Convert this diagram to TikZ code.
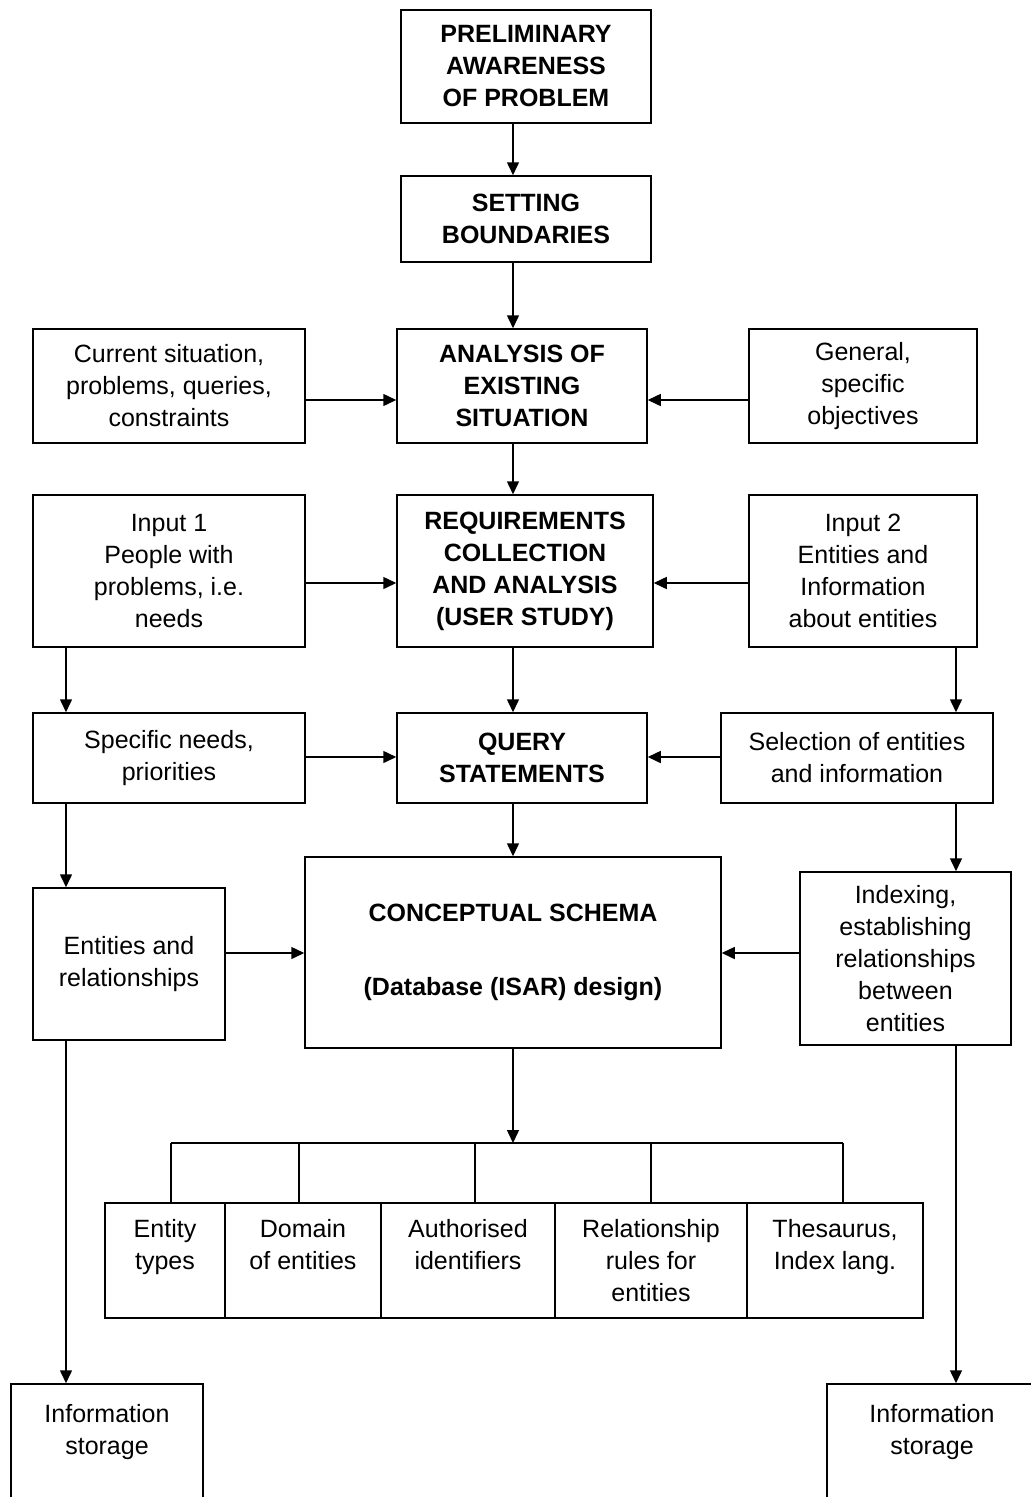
\documentclass[tikz,border=0pt]{standalone}
\usepackage{fontspec}
\setmainfont{Liberation Sans}
\usetikzlibrary{arrows.meta}
\begin{document}
\begin{tikzpicture}[x=1pt,y=-1pt,
  box/.style={draw, line width=1.5pt, align=center, inner sep=0pt,
    font=\fontsize{25}{32}\selectfont},
  bbox/.style={box, font=\fontsize{25}{32}\selectfont\bfseries},
  arr/.style={line width=1.5pt, -{Triangle[length=13pt,width=12pt]}},
  ln/.style={line width=1.5pt}]
\useasboundingbox[fill=white] (0,0) rectangle (1031,1497);
% central column
\node[bbox, minimum width=250pt, minimum height=113pt] (prelim) at (526,66.5) {PRELIMINARY\\AWARENESS\\OF PROBLEM};
\node[bbox, minimum width=250pt, minimum height=86pt] (setting) at (526,219) {SETTING\\BOUNDARIES};
\node[bbox, minimum width=250pt, minimum height=114pt] (analysis) at (522,386) {ANALYSIS OF\\EXISTING\\SITUATION};
\node[bbox, minimum width=256pt, minimum height=152pt] (req) at (525,571) {REQUIREMENTS\\COLLECTION\\AND ANALYSIS\\(USER STUDY)};
\node[bbox, minimum width=250pt, minimum height=90pt] (query) at (522,758) {QUERY\\STATEMENTS};
\node[bbox, minimum width=416pt, minimum height=191pt, font=\fontsize{25}{74}\selectfont\bfseries] (concept) at (513,952.5) {CONCEPTUAL SCHEMA\\(Database (ISAR) design)};
% left column
\node[box, minimum width=272pt, minimum height=114pt] (current) at (169,386) {Current situation,\\problems, queries,\\constraints};
\node[box, minimum width=272pt, minimum height=152pt] (input1) at (169,571) {Input 1\\People with\\problems, i.e.\\needs};
\node[box, minimum width=272pt, minimum height=90pt] (specific) at (169,758) {Specific needs,\\priorities};
\node[box, minimum width=192pt, minimum height=152pt] (entrel) at (129,964) {Entities and\\relationships};
\node[box, minimum width=192pt, minimum height=154pt] (infoL) at (107,1461) {Information\\storage\\ \\ };
% right column
\node[box, minimum width=228pt, minimum height=114pt] (general) at (863,386) {General,\\specific\\objectives};
\node[box, minimum width=228pt, minimum height=152pt] (input2) at (863,571) {Input 2\\Entities and\\Information\\about entities};
\node[box, minimum width=272pt, minimum height=90pt] (selection) at (857,758) {Selection of entities\\and information};
\node[box, minimum width=211pt, minimum height=173pt] (indexing) at (905.5,958.5) {Indexing,\\establishing\\relationships\\between\\entities};
\node[box, minimum width=210pt, minimum height=154pt] (infoR) at (932,1461) {Information\\storage\\ \\ };
% bottom row
\node[box, minimum width=120pt, minimum height=115pt] (c1) at (165,1260.5) {Entity\\types\\ };
\node[box, minimum width=156pt, minimum height=115pt] (c2) at (303,1260.5) {Domain\\of entities\\ };
\node[box, minimum width=174pt, minimum height=115pt] (c3) at (468,1260.5) {Authorised\\identifiers\\ };
\node[box, minimum width=192pt, minimum height=115pt] (c4) at (651,1260.5) {Relationship\\rules for\\entities};
\node[box, minimum width=176pt, minimum height=115pt] (c5) at (835,1260.5) {Thesaurus,\\Index lang.\\ };
% helper coordinates
\coordinate (lcol) at (66,0);
\coordinate (rcol) at (956,0);
\coordinate (ay1) at (0,400);
\coordinate (ay2) at (0,583);
\coordinate (ay3) at (0,757);
\coordinate (ay4) at (0,953);
\coordinate (bus) at (513,1143);
\coordinate (t1) at (171,1143);
\coordinate (t2) at (299,1143);
\coordinate (t3) at (475,1143);
\coordinate (t4) at (651,1143);
\coordinate (t5) at (843,1143);
% central vertical arrows
\draw[arr] (prelim.south -| concept.north) -- (setting.north -| concept.north);
\draw[arr] (setting.south -| concept.north) -- (analysis.north -| concept.north);
\draw[arr] (analysis.south -| concept.north) -- (req.north -| concept.north);
\draw[arr] (req.south -| concept.north) -- (query.north -| concept.north);
\draw[arr] (query.south -| concept.north) -- (concept.north);
\draw[arr] (concept.south) -- (bus);
% horizontal arrows
\draw[arr] (current.east |- ay1) -- (analysis.west |- ay1);
\draw[arr] (general.west |- ay1) -- (analysis.east |- ay1);
\draw[arr] (input1.east |- ay2) -- (req.west |- ay2);
\draw[arr] (input2.west |- ay2) -- (req.east |- ay2);
\draw[arr] (specific.east |- ay3) -- (query.west |- ay3);
\draw[arr] (selection.west |- ay3) -- (query.east |- ay3);
\draw[arr] (entrel.east |- ay4) -- (concept.west |- ay4);
\draw[arr] (indexing.west |- ay4) -- (concept.east |- ay4);
% side columns
\draw[arr] (input1.south -| lcol) -- (specific.north -| lcol);
\draw[arr] (specific.south -| lcol) -- (entrel.north -| lcol);
\draw[arr] (entrel.south -| lcol) -- (infoL.north -| lcol);
\draw[arr] (input2.south -| rcol) -- (selection.north -| rcol);
\draw[arr] (selection.south -| rcol) -- (indexing.north -| rcol);
\draw[arr] (indexing.south -| rcol) -- (infoR.north -| rcol);
% bus
\draw[ln] (t1) -- (t5);
\draw[ln] (t1) -- (t1 |- c1.north);
\draw[ln] (t2) -- (t2 |- c2.north);
\draw[ln] (t3) -- (t3 |- c3.north);
\draw[ln] (t4) -- (t4 |- c4.north);
\draw[ln] (t5) -- (t5 |- c5.north);
\end{tikzpicture}
\end{document}
